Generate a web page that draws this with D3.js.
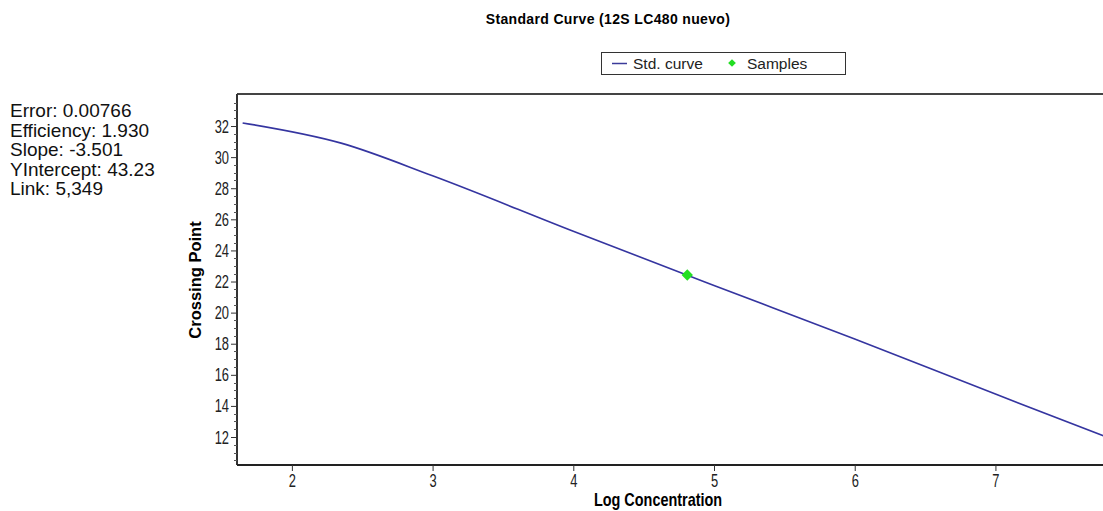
<!DOCTYPE html>
<html>
<head>
<meta charset="utf-8">
<script src="https://cdn.jsdelivr.net/npm/d3@7"></script>
<style>
  body { margin: 0; background: #fff; }
  svg { display: block; }
</style>
</head>
<body>
<svg id="chart" width="1103" height="511"></svg>
<script>
// values
const curveLog = [1.65, 2.35, 3.0, 4.0, 5.0, 6.0, 7.0, 7.8];
const curveCp  = [32.2, 30.9, 28.8, 25.23, 21.75, 18.31, 14.76, 11.97];
const sampleLog = [4.81];
const sampleCp  = [22.42];
const xTicks = [2, 3, 4, 5, 6, 7];
const yTicks = [12, 14, 16, 18, 20, 22, 24, 26, 28, 30, 32];
const statLines = ["Error: 0.00766", "Efficiency: 1.930", "Slope: -3.501", "YIntercept: 43.23", "Link: 5,349"];

function drawChart() {
  const svg = d3.select("#chart");
  const left = 237, top = 94, right = 1108, bottom = 465;
  const sans = "'Liberation Sans', Arial, sans-serif";

  const x = d3.scaleLinear().domain([1.61, 7.8]).range([left, right]);
  const y = d3.scaleLinear().domain([10.2, 34.06]).range([bottom, top]);

  // title
  svg.append("text")
    .attr("x", 608).attr("y", 24)
    .attr("text-anchor", "middle")
    .style("font-family", sans)
    .style("font-weight", "bold")
    .style("font-size", "14px")
    .style("letter-spacing", "0.35px")
    .text("Standard Curve (12S LC480 nuevo)");

  // legend
  const lg = svg.append("g");
  lg.append("rect").attr("x", 601.5).attr("y", 52.5).attr("width", 244).attr("height", 22)
    .attr("fill", "#fff").attr("stroke", "#333").attr("stroke-width", 1);
  lg.append("line").attr("x1", 612).attr("x2", 627).attr("y1", 63.5).attr("y2", 63.5)
    .attr("stroke", "#3b3b9a").attr("stroke-width", 1.5);
  lg.append("text").attr("x", 633).attr("y", 69)
    .style("font-family", sans).style("font-size", "15.5px").attr("fill", "#222")
    .text("Std. curve");
  lg.append("path").attr("d", d3.symbol(d3.symbolSquare, 30)()).attr("transform", "translate(732,63) rotate(45)")
    .attr("fill", "#22dd22");
  lg.append("text").attr("x", 747).attr("y", 69)
    .style("font-family", sans).style("font-size", "15.5px").attr("fill", "#222")
    .text("Samples");

  // stats
  svg.append("g").selectAll("text")
    .data(statLines)
    .enter().append("text")
    .attr("x", 10)
    .attr("y", (d, i) => 117 + i * 19.5)
    .style("font-family", sans)
    .style("font-size", "19px")
    .attr("fill", "#111")
    .text(d => d);

  // plot frame
  svg.append("line").attr("x1", left).attr("x2", 1103).attr("y1", top).attr("y2", top)
    .attr("stroke", "#444").attr("stroke-width", 2);
  svg.append("line").attr("x1", left).attr("x2", left).attr("y1", top).attr("y2", bottom)
    .attr("stroke", "#333").attr("stroke-width", 2);
  svg.append("line").attr("x1", left).attr("x2", 1103).attr("y1", bottom).attr("y2", bottom)
    .attr("stroke", "#222").attr("stroke-width", 2);

  // y minor ticks
  const minor = d3.range(10.5, 34, 0.5).filter(v => !yTicks.includes(v));
  svg.append("g").selectAll("line").data(minor).enter().append("line")
    .attr("x1", left - 3).attr("x2", left)
    .attr("y1", d => Math.round(y(d)) + 0.5).attr("y2", d => Math.round(y(d)) + 0.5)
    .attr("stroke", "#555");

  // y axis
  const yAxis = svg.append("g")
    .attr("transform", "translate(" + left + ",0)")
    .call(d3.axisLeft(y).tickValues(yTicks).tickFormat(d3.format("d")).tickSize(6).tickPadding(0));
  yAxis.select(".domain").remove();
  yAxis.selectAll("line").attr("stroke", "#333");
  yAxis.selectAll("text")
    .attr("x", 0).attr("transform", "translate(-8,0) scale(0.68,1)")
    .style("font-family", sans).style("font-size", "19px").attr("fill", "#222");

  // x axis
  const xAxis = svg.append("g")
    .attr("transform", "translate(0," + bottom + ")")
    .call(d3.axisBottom(x).tickValues(xTicks).tickFormat(d3.format("d")).tickSize(6).tickPadding(3));
  xAxis.select(".domain").remove();
  xAxis.selectAll("line").attr("stroke", "#333");
  xAxis.selectAll("text")
    .attr("transform", "scale(0.68,1)")
    .style("font-family", sans).style("font-size", "19px").attr("fill", "#222");

  // axis titles
  svg.append("text")
    .attr("transform", "translate(658,506) scale(0.78,1)")
    .attr("text-anchor", "middle")
    .style("font-family", sans).style("font-weight", "bold").style("font-size", "18.5px")
    .text("Log Concentration");
  svg.append("text")
    .attr("transform", "translate(201,280) rotate(-90)")
    .attr("text-anchor", "middle")
    .style("font-family", sans).style("font-weight", "bold").style("font-size", "16.5px")
    .text("Crossing Point");

  // curve
  const pts = curveLog.map((v, i) => ({ log: v, cp: curveCp[i] }));
  const line = d3.line().curve(d3.curveMonotoneX).x(d => x(d.log)).y(d => y(d.cp));
  svg.append("defs").append("clipPath").attr("id", "clip")
    .append("rect").attr("x", left + 1).attr("y", top + 1).attr("width", right - left).attr("height", bottom - top - 2);
  svg.append("path")
    .datum(pts)
    .attr("clip-path", "url(#clip)")
    .attr("d", line)
    .attr("fill", "none")
    .attr("stroke", "#3535a0")
    .attr("stroke-width", 1.6);

  // samples
  svg.selectAll(".dot")
    .data(sampleLog.map((v, i) => ({ log: v, cp: sampleCp[i] })))
    .enter().append("path")
    .attr("class", "dot")
    .attr("d", d3.symbol(d3.symbolSquare, 64)())
    .attr("transform", d => "translate(" + x(d.log) + "," + y(d.cp) + ") rotate(45)")
    .attr("fill", "#22e022");
}

drawChart();
</script>
</body>
</html>
